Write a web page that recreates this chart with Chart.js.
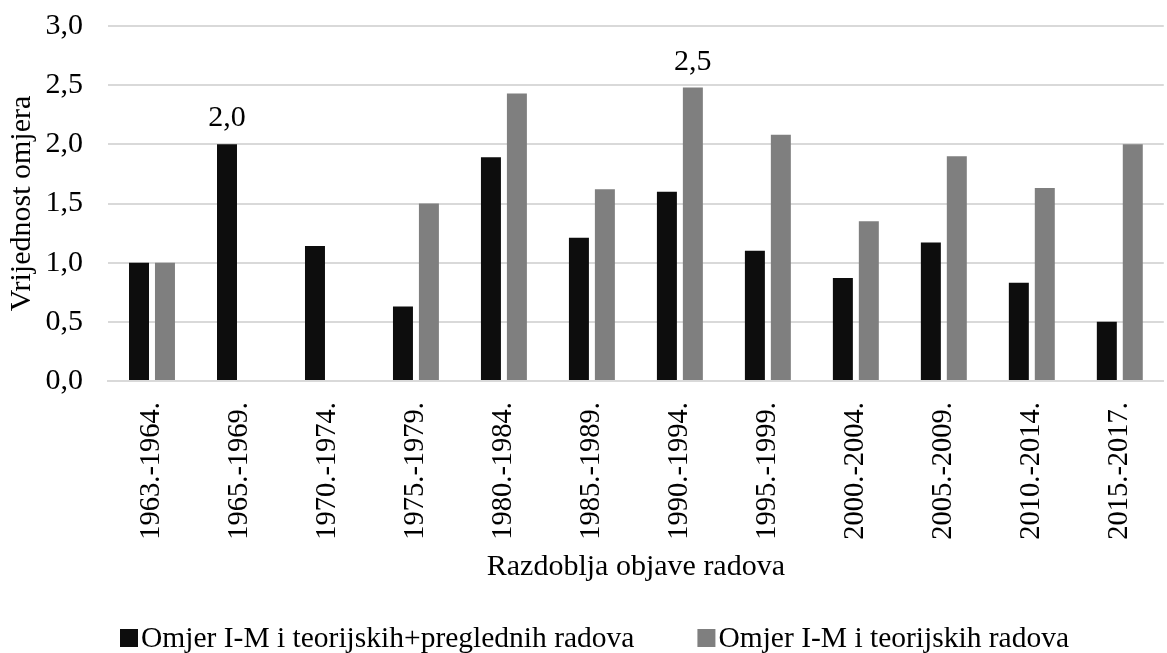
<!DOCTYPE html>
<html>
<head>
<meta charset="utf-8">
<script src="https://cdn.jsdelivr.net/npm/chart.js@4/dist/chart.umd.min.js"></script>
<style>
  html, body { margin: 0; padding: 0; background: #fff; }
  #wrap { width: 1167px; height: 653px; }
</style>
</head>
<body>
<div id="wrap"><canvas id="grafikon"></canvas></div>
<script>
var razdoblja = ["1963.-1964.", "1965.-1969.", "1970.-1974.", "1975.-1979.", "1980.-1984.", "1985.-1989.",
    "1990.-1994.", "1995.-1999.", "2000.-2004.", "2005.-2009.", "2010.-2014.", "2015.-2017."];
var omjerPregledni = [1.0, 2.0, 1.14, 0.63, 1.89, 1.21, 1.6, 1.1, 0.87, 1.17, 0.83, 0.5];
var omjerTeorijski = [1.0, 0, 0, 1.5, 2.43, 1.62, 2.48, 2.08, 1.35, 1.9, 1.63, 2.0];
var yTickovi = [0, 0.5, 1.0, 1.5, 2.0, 2.5, 3.0];
// koje vrijednosti imaju oznaku iznad stupca: [dataset, indeks]
var oznake = [[0, 1], [1, 6]];

var font = "'Liberation Serif', 'Times New Roman', serif";

function zarez(v) {
    return Number(v).toFixed(1).replace('.', ',');
}

// oznake vrijednosti iznad odabranih stupaca
const oznakePlugin = {
    id: 'oznake',
    afterDatasetsDraw(chart) {
        const ctx = chart.ctx;
        ctx.save();
        ctx.font = "30px " + font;
        ctx.fillStyle = "#000";
        ctx.textAlign = "center";
        ctx.textBaseline = "alphabetic";
        for (var o of oznake) {
            var el = chart.getDatasetMeta(o[0]).data[o[1]];
            var v = chart.data.datasets[o[0]].data[o[1]];
            ctx.fillText(zarez(v), el.x, el.y - 18);
        }
        ctx.restore();
    }
};

// legenda ispod grafikona (razmak izmedju stavki kao u Excelu)
const legendaPlugin = {
    id: 'legenda',
    afterDraw(chart) {
        const ctx = chart.ctx;
        ctx.save();
        ctx.font = "29.5px " + font;
        ctx.textBaseline = "middle";
        var x = 120;
        var y = 638;
        chart.data.datasets.forEach(function (ds) {
            ctx.fillStyle = ds.backgroundColor;
            ctx.fillRect(x, y - 9, 18, 18);
            ctx.fillStyle = "#000";
            ctx.fillText(ds.label, x + 21, y + 1);
            x += 21 + ctx.measureText(ds.label).width + 63;
        });
        ctx.restore();
    }
};

const data = {
    labels: razdoblja,
    datasets: [{
        label: 'Omjer I-M i teorijskih+preglednih radova',
        backgroundColor: '#0d0d0d',
        data: omjerPregledni,
        categoryPercentage: 0.59,
        barPercentage: 0.77
    }, {
        label: 'Omjer I-M i teorijskih radova',
        backgroundColor: '#7f7f7f',
        data: omjerTeorijski,
        categoryPercentage: 0.59,
        barPercentage: 0.77
    }]
};

const config = {
    type: 'bar',
    data: data,
    plugins: [oznakePlugin, legendaPlugin],
    options: {
        responsive: true,
        maintainAspectRatio: false,
        animation: false,
        layout: { padding: { top: 0, right: 0, left: 0, bottom: 53 } },
        plugins: {
            tooltip: { enabled: false },
            legend: { display: false }
        },
        scales: {
            x: {
                grid: { display: false },
                border: { color: '#d9d9d9', width: 2 },
                ticks: {
                    color: '#000',
                    font: { family: font, size: 28.5 },
                    maxRotation: 90,
                    minRotation: 90,
                    padding: 13,
                    autoSkip: false
                },
                title: {
                    display: true,
                    text: 'Razdoblja objave radova',
                    color: '#000',
                    font: { family: font, size: 30 },
                    padding: { top: 0, bottom: 15 }
                },
                afterFit: function (s) { s.height = 219; }
            },
            y: {
                min: 0,
                max: 3,
                afterBuildTicks: function (s) { s.ticks = yTickovi.map(function (v) { return { value: v }; }); },
                grid: { color: '#d9d9d9', lineWidth: 2, drawTicks: true, tickLength: 17, tickColor: 'rgba(0,0,0,0)' },
                border: { display: false },
                ticks: {
                    color: '#000',
                    font: { family: font, size: 30 },
                    padding: 8,
                    callback: function (v) { return zarez(v); }
                },
                title: {
                    display: true,
                    text: 'Vrijednost omjera',
                    color: '#000',
                    font: { family: font, size: 30 },
                    padding: { top: 4, bottom: 0 }
                },
                afterFit: function (s) { s.width = 108; }
            }
        }
    }
};

new Chart(document.getElementById('grafikon'), config);
</script>
</body>
</html>
